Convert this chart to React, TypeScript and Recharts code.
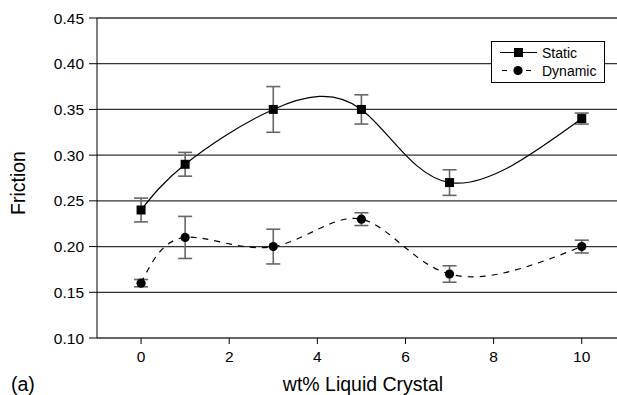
import { LineChart, Line, XAxis, YAxis, CartesianGrid, ErrorBar, Legend } from 'recharts';

const wtPercent = [0, 1, 3, 5, 7, 10];
const staticFriction = [0.24, 0.29, 0.35, 0.35, 0.27, 0.34];
const staticErr = [0.013, 0.013, 0.025, 0.016, 0.014, 0.006];
const dynamicFriction = [0.16, 0.21, 0.2, 0.23, 0.17, 0.2];
const dynamicErr = [0.004, 0.023, 0.019, 0.007, 0.009, 0.007];

const xTicks = [0, 2, 4, 6, 8, 10];
const yTicks = [0.1, 0.15, 0.2, 0.25, 0.3, 0.35, 0.4, 0.45];

const data = wtPercent.map((x, i) => ({
  x,
  static: staticFriction[i],
  staticErr: staticErr[i],
  dynamic: dynamicFriction[i],
  dynamicErr: dynamicErr[i],
}));

const FONT = '"Liberation Sans", Arial, sans-serif';

function SquareDot(props: any) {
  const { cx, cy, index } = props;
  if (cx == null || cy == null) return null;
  return <rect key={`sq-${index}`} x={cx - 4.5} y={cy - 4.5} width={9} height={9} fill="#000" />;
}

function CircleDot(props: any) {
  const { cx, cy, index } = props;
  if (cx == null || cy == null) return null;
  return <circle key={`ci-${index}`} cx={cx} cy={cy} r={4.6} fill="#000" />;
}

function LegendBox() {
  return (
    <svg width={114} height={42} style={{ display: 'block' }}>
      <rect x={0.5} y={0.5} width={113} height={41} fill="#fff" stroke="#000" strokeWidth={1} />
      <line x1={9} y1={11.5} x2={46} y2={11.5} stroke="#000" strokeWidth={1.2} />
      <rect x={23} y={7} width={9} height={9} fill="#000" />
      <text x={51} y={16.5} fontSize={14} fontFamily={FONT} fill="#000">Static</text>
      <line x1={9} y1={29.5} x2={46} y2={29.5} stroke="#000" strokeWidth={1.2} strokeDasharray="5 7" strokeDashoffset={-2} />
      <circle cx={27} cy={29.5} r={4.6} fill="#000" />
      <text x={51} y={34.5} fontSize={14} fontFamily={FONT} fill="#000">Dynamic</text>
    </svg>
  );
}

export default function App() {
  return (
    <div style={{ position: 'absolute', left: 0, top: 0, background: '#fff' }}>
      <LineChart width={617} height={395} data={data} margin={{ top: 18, right: 0, left: 0, bottom: 0 }}>
        <CartesianGrid vertical={false} stroke="#333" strokeWidth={1.3} />
        <XAxis
          dataKey="x"
          type="number"
          domain={[-1, 10.8]}
          ticks={xTicks}
          height={57}
          axisLine={false}
          tickLine={{ stroke: '#000' }}
          tickSize={6}
          tickMargin={7}
          tick={{ fontSize: 15.5, fill: '#000', fontFamily: FONT }}
          label={{
            content: () => (
              <g>
                <text x={363} y={391} textAnchor="middle" fontSize={19.5} fontFamily={FONT} fill="#000">
                  wt% Liquid Crystal
                </text>
                <text x={11} y={391} fontSize={19.5} fontFamily={FONT} fill="#000">
                  (a)
                </text>
              </g>
            ),
          }}
        />
        <YAxis
          type="number"
          domain={[0.1, 0.45]}
          ticks={yTicks}
          width={97}
          axisLine={{ stroke: '#000' }}
          tickLine={{ stroke: '#000' }}
          tickSize={8}
          tickMargin={5}
          tickFormatter={(v: number) => v.toFixed(2)}
          tick={{ fontSize: 15.5, fill: '#000', fontFamily: FONT }}
          label={{
            content: () => (
              <text
                x={25}
                y={183}
                transform="rotate(-90, 25, 183)"
                textAnchor="middle"
                fontSize={19.5}
                fontFamily={FONT}
                fill="#000"
              >
                Friction
              </text>
            ),
          }}
        />
        <Legend
          layout="horizontal"
          verticalAlign="middle"
          align="center"
          content={() => <LegendBox />}
          wrapperStyle={{ position: 'absolute', left: 491, top: 41, width: 114, height: 42 }}
        />
        <Line
          type="natural"
          dataKey="static"
          name="Static"
          stroke="#000"
          strokeWidth={1.2}
          dot={SquareDot}
          activeDot={false}
          isAnimationActive={false}
        >
          <ErrorBar dataKey="staticErr" direction="y" width={7} stroke="#666" strokeWidth={1.6} />
        </Line>
        <Line
          type="natural"
          dataKey="dynamic"
          name="Dynamic"
          stroke="#000"
          strokeWidth={1.2}
          strokeDasharray="6 6"
          dot={CircleDot}
          activeDot={false}
          isAnimationActive={false}
        >
          <ErrorBar dataKey="dynamicErr" direction="y" width={7} stroke="#666" strokeWidth={1.6} />
        </Line>
      </LineChart>
    </div>
  );
}
